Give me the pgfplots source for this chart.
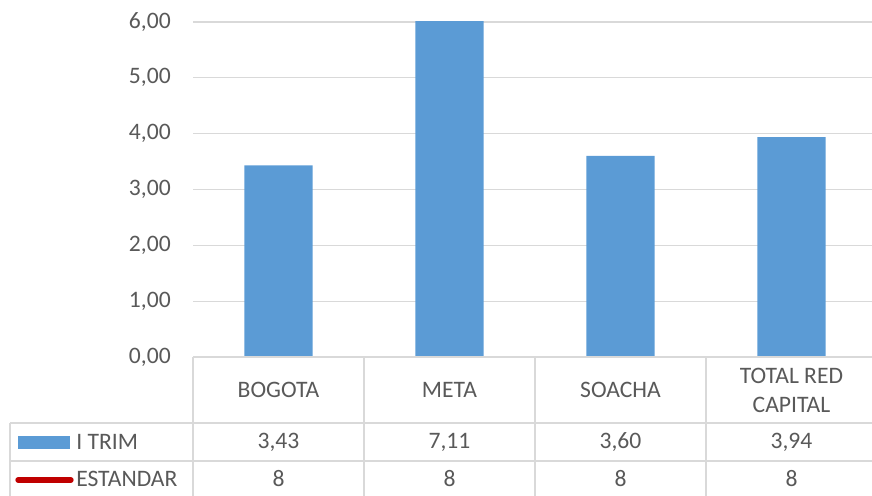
\documentclass[border=0pt]{standalone}
\usepackage{pgfplots}
\pgfplotsset{compat=1.18}
\usepackage{pgfplotstable}
\usepackage{fontspec}
\setmainfont{Carlito}
\definecolor{barblue}{HTML}{5B9BD5}
\definecolor{stdred}{HTML}{C00000}
\definecolor{gridgray}{HTML}{D9D9D9}
\definecolor{txtgray}{HTML}{595959}

% Indicator per network: first quarter value and the standard
\pgfplotstableread{
x trim estandar
0 3.43 8
1 7.11 8
2 3.60 8
3 3.94 8
}\datos

\newcommand{\tfont}{\fontsize{17.7}{21.75}\selectfont\color{txtgray}}

\begin{document}
\begin{tikzpicture}[x=0.75pt,y=0.75pt]
\path[use as bounding box] (0,0) rectangle (872,496);
\begin{axis}[
  at={(144.75pt,104.25pt)}, anchor=south west,
  scale only axis,
  width=513pt, height=251.25pt,
  xmin=-0.5, xmax=3.5, ymin=0, ymax=6,
  xtick=\empty,
  ytick={0,1,2,3,4,5,6},
  ymajorgrids,
  grid style={draw=gridgray, line width=0.9pt},
  axis line style={draw=none},
  major tick length=0pt,
  /pgf/number format/.cd, fixed, fixed zerofill, precision=2, use comma, assume math mode=true,
  /pgfplots/.cd,
  yticklabel style={font=\tfont, anchor=east, inner sep=0pt, xshift=-16.5pt},
]
\addplot[ybar, bar width=0.4, fill=barblue, draw=none] table[x=x, y=trim] {\datos};
\addplot[stdred, line width=3pt, mark=none] table[x=x, y=estandar] {\datos};
\end{axis}

% data table beneath the plot
\begin{scope}[draw=gridgray, line width=0.9pt]
  \draw (193,139) -- (880,139);
  \draw (10,73) -- (880,73);
  \draw (10,35) -- (880,35);
  \draw (10,0) -- (10,73);
  \foreach \xx in {193,364,535,706,877} \draw (\xx,0) -- (\xx,139);
\end{scope}

\begin{scope}[every node/.style={font=\tfont, inner sep=0pt}]
  \node at (278.5,106) {BOGOTA};
  \node at (449.5,106) {META};
  \node at (620.5,106) {SOACHA};
  \node[align=center] at (791.5,106) {TOTAL RED\\CAPITAL};

  \fill[barblue] (18,47.3) rectangle (70,60.3);
  \node[anchor=west] at (76,54) {I TRIM};
  \draw[stdred, line width=4pt, line cap=round] (18,16) -- (71,16);
  \node[anchor=west] at (76,17.5) {ESTANDAR};

  \node at (278.5,54) {3,43};
  \node at (449.5,54) {7,11};
  \node at (620.5,54) {3,60};
  \node at (791.5,54) {3,94};

  \node at (278.5,17.5) {8};
  \node at (449.5,17.5) {8};
  \node at (620.5,17.5) {8};
  \node at (791.5,17.5) {8};
\end{scope}
\end{tikzpicture}
\end{document}
